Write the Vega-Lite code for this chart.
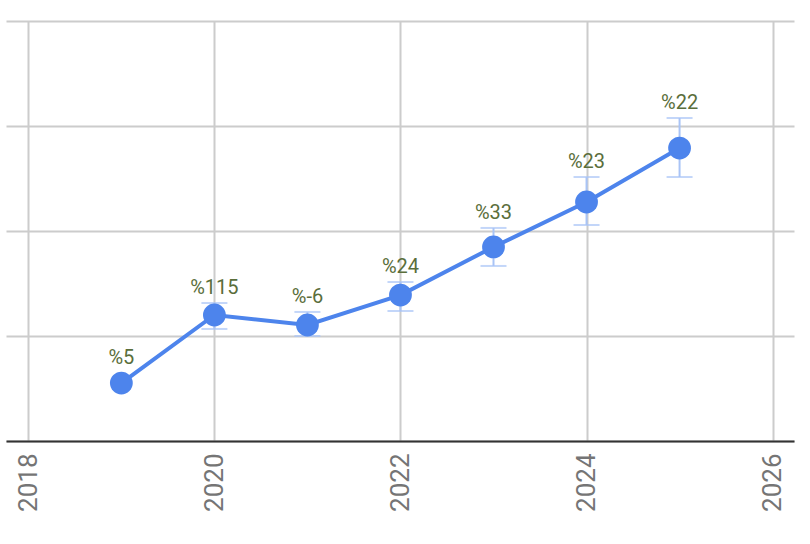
{
  "$schema": "https://vega.github.io/schema/vega-lite/v6.json",
  "width": 788,
  "height": 420,
  "autosize": "none",
  "padding": {"left": 6, "top": 21, "right": 16, "bottom": 83},
  "background": "white",
  "config": {"view": {"stroke": null}, "font": "Roboto"},
  "data": {
    "values": [
      {"year": 2019, "value": 55.2, "lower": null, "upper": null, "label": "%5"},
      {"year": 2020, "value": 120, "lower": 106.7, "upper": 131.4, "label": "%115"},
      {"year": 2021, "value": 110.5, "lower": 100, "upper": 122.9, "label": "%-6"},
      {"year": 2022, "value": 139, "lower": 123.8, "upper": 151.4, "label": "%24"},
      {"year": 2023, "value": 184.8, "lower": 166.7, "upper": 202.9, "label": "%33"},
      {"year": 2024, "value": 227.6, "lower": 205.7, "upper": 251.4, "label": "%23"},
      {"year": 2025, "value": 279, "lower": 251.4, "upper": 307.6, "label": "%22"}
    ]
  },
  "encoding": {
    "x": {
      "field": "year",
      "type": "quantitative",
      "scale": {"domain": [2017.76, 2026.23], "nice": false, "zero": false},
      "axis": {
        "values": [2018, 2020, 2022, 2024, 2026],
        "format": "d",
        "title": null,
        "labelAngle": -90,
        "labelAlign": "right",
        "labelBaseline": "middle",
        "labelFontSize": 26,
        "labelColor": "#757575",
        "labelPadding": 12,
        "ticks": false,
        "domainColor": "#333333",
        "domainWidth": 2,
        "gridColor": "#cccccc",
        "gridWidth": 2,
        "labelFlush": false,
        "labelOverlap": false
      }
    }
  },
  "layer": [
    {
      "mark": {"type": "rule", "color": "#a9c4f6", "strokeWidth": 2},
      "transform": [{"filter": "datum.upper != null"}],
      "encoding": {
        "y": {
          "field": "lower",
          "type": "quantitative",
          "scale": {"domain": [0, 400], "nice": false},
          "axis": {
            "values": [0, 100, 200, 300, 400],
            "labels": false,
            "ticks": false,
            "domain": false,
            "title": null,
            "gridColor": "#cccccc",
            "gridWidth": 2
          }
        },
        "y2": {"field": "upper"}
      }
    },
    {
      "mark": {"type": "tick", "orient": "horizontal", "color": "#a9c4f6", "size": 26, "thickness": 2},
      "transform": [{"filter": "datum.upper != null"}],
      "encoding": {"y": {"field": "upper", "type": "quantitative"}}
    },
    {
      "mark": {"type": "tick", "orient": "horizontal", "color": "#a9c4f6", "size": 26, "thickness": 2},
      "transform": [{"filter": "datum.upper != null"}],
      "encoding": {"y": {"field": "lower", "type": "quantitative"}}
    },
    {
      "mark": {"type": "line", "color": "#4d84ec", "strokeWidth": 4},
      "encoding": {"y": {"field": "value", "type": "quantitative"}}
    },
    {
      "mark": {"type": "point", "filled": true, "color": "#4d84ec", "opacity": 1, "size": 520, "shape": "circle"},
      "encoding": {"y": {"field": "value", "type": "quantitative"}}
    },
    {
      "mark": {"type": "text", "color": "#5a6e3b", "fontSize": 20, "baseline": "bottom", "dy": -5},
      "transform": [{"filter": "datum.upper != null"}],
      "encoding": {
        "y": {"field": "upper", "type": "quantitative"},
        "text": {"field": "label"}
      }
    },
    {
      "mark": {"type": "text", "color": "#5a6e3b", "fontSize": 20, "baseline": "bottom", "dy": -15},
      "transform": [{"filter": "datum.upper == null"}],
      "encoding": {
        "y": {"field": "value", "type": "quantitative"},
        "text": {"field": "label"}
      }
    }
  ]
}
